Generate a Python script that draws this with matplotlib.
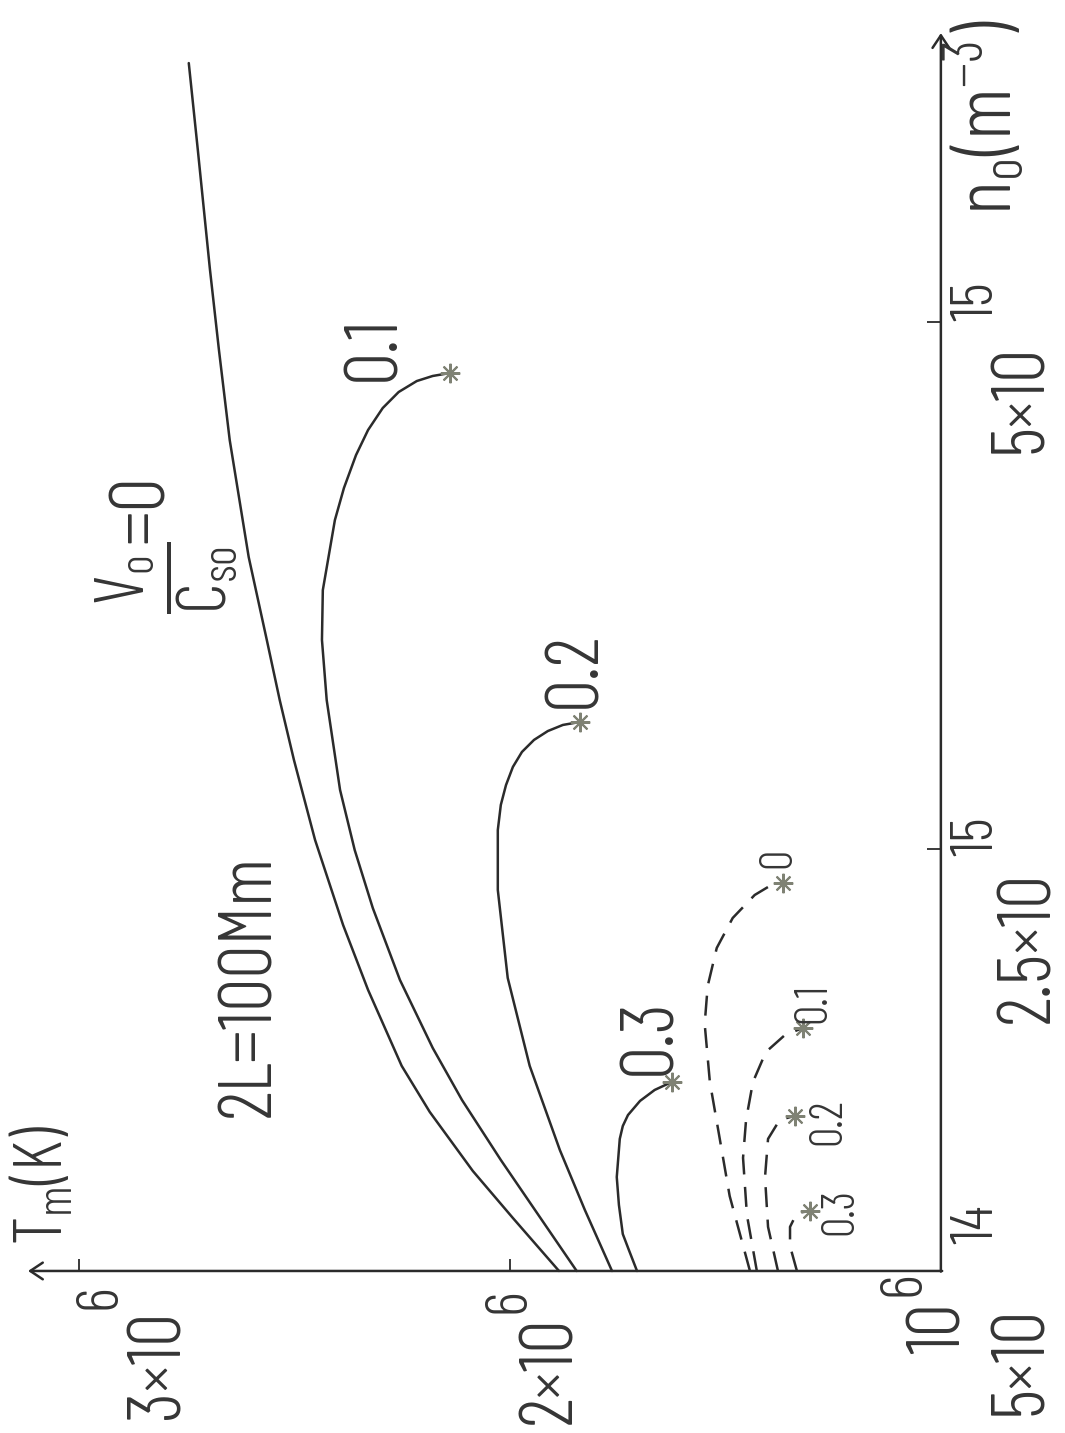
import matplotlib
matplotlib.use('Agg')
import matplotlib.pyplot as plt
from matplotlib import font_manager

# thin, narrow lettering; take the first family that has a light face installed
light = {f.name for f in font_manager.fontManager.ttflist
         if f.style == 'normal' and isinstance(f.weight, int) and 200 <= f.weight <= 300}
face = next(f for f in ['Barlow Condensed', 'Fira Sans Extra Condensed', 'IBM Plex Sans Condensed',
                        'Saira Extra Condensed', 'Abel', 'DejaVu Sans'] if f in light or f in ('Abel', 'DejaVu Sans'))

plt.rcParams['font.family'] = [face, 'DejaVu Sans']
plt.rcParams['font.weight'] = 300
plt.rcParams['mathtext.fontset'] = 'custom'
plt.rcParams['mathtext.rm'] = face + ':weight=300'
plt.rcParams['mathtext.it'] = face + ':weight=300'
plt.rcParams['mathtext.bf'] = face + ':weight=300'
plt.rcParams['mathtext.default'] = 'rm'

# T_m in units of 1e6 K, n_o in units of 1e15 m^-3
# solid curves, 2L = 100 Mm, labelled by V_o/C_so
v00_n = [0.500, 0.751, 0.974, 1.254, 1.472, 1.832, 2.140, 2.543, 2.922, 3.206, 3.491,
         3.884, 4.438, 4.865, 5.249, 5.813, 6.225]
v00_T = [1.886, 1.993, 2.086, 2.186, 2.251, 2.329, 2.387, 2.452, 2.501, 2.534, 2.564,
         2.606, 2.650, 2.675, 2.696, 2.724, 2.745]

v01_n = [0.500, 0.742, 1.026, 1.310, 1.557, 1.879, 2.220, 2.495, 2.780, 3.206, 3.491,
         3.727, 4.059, 4.211, 4.367, 4.486, 4.590, 4.666, 4.718, 4.742, 4.756]
v01_T = [1.845, 1.926, 2.021, 2.111, 2.179, 2.255, 2.318, 2.360, 2.394, 2.425, 2.436,
         2.434, 2.406, 2.385, 2.357, 2.329, 2.295, 2.258, 2.216, 2.179, 2.139]

v02_n = [0.500, 0.789, 1.073, 1.472, 1.889, 2.306, 2.590, 2.709, 2.803, 2.889, 2.960,
         3.017, 3.059, 3.088, 3.102]
v02_T = [1.763, 1.826, 1.884, 1.954, 2.005, 2.028, 2.028, 2.021, 2.009, 1.993, 1.972,
         1.944, 1.912, 1.877, 1.838]

v03_n = [0.500, 0.600, 0.675, 0.813, 0.945, 1.126, 1.187, 1.239, 1.306, 1.358, 1.396]
v03_T = [1.705, 1.724, 1.738, 1.747, 1.752, 1.745, 1.738, 1.726, 1.698, 1.664, 1.624]

# dashed curves
d00_n = [0.500, 0.855, 1.126, 1.396, 1.671, 1.851, 2.031, 2.173, 2.282, 2.320, 2.339]
d00_T = [1.443, 1.490, 1.513, 1.536, 1.548, 1.541, 1.520, 1.483, 1.432, 1.401, 1.367]

d01_n = [0.500, 0.765, 1.036, 1.216, 1.396, 1.538, 1.618, 1.652]
d01_T = [1.427, 1.450, 1.459, 1.452, 1.436, 1.406, 1.362, 1.320]

d02_n = [0.500, 0.709, 0.945, 1.126, 1.216, 1.235]
d02_T = [1.378, 1.401, 1.408, 1.401, 1.374, 1.339]

d03_n = [0.500, 0.618, 0.709, 0.775, 0.784]
d03_T = [1.334, 1.350, 1.350, 1.334, 1.304]

T_ticks = [2.0, 3.0]
n_ticks = [2.5, 5.0]

ink = '#2b2b2b'
star = '#7f8274'

fig = plt.figure(figsize=(10.65, 14.33), dpi=100)
ax = fig.add_axes([0, 0, 1, 1])
ax.set_xlim(3.183, 0.712)   # temperature grows to the left
ax.set_ylim(-0.268, 6.524)

for s in ax.spines.values():
    s.set_visible(False)
ax.spines['bottom'].set_position(('data', 0.5))
ax.spines['right'].set_position(('data', 1.0))
ax.yaxis.set_ticks_position('right')
ax.set_xticks(T_ticks)
ax.set_yticks(n_ticks)
ax.tick_params(axis='x', direction='in', length=9, width=1.3, color=ink, labelbottom=False)
ax.tick_params(axis='y', direction='in', length=10, width=1.3, color=ink, labelright=False)

# axes with open arrow heads
arrow = dict(arrowstyle='->,head_length=0.9,head_width=0.6', color=ink, lw=1.8, shrinkA=0, shrinkB=0)
ax.annotate('', xy=(3.118, 0.5), xytext=(0.997, 0.5), arrowprops=arrow)
ax.annotate('', xy=(1.0, 6.367), xytext=(1.0, 0.497), arrowprops=arrow)

solid = [(v00_T, v00_n, False), (v01_T, v01_n, True), (v02_T, v02_n, True), (v03_T, v03_n, True)]
for T, n, end in solid:
    ax.plot(T, n, color=ink, lw=1.8, solid_joinstyle='round', solid_capstyle='round')
    if end:
        ax.plot(T[-1], n[-1], marker=(8, 2, 0), ms=14, mew=1.5, color=star)

for T, n in [(d00_T, d00_n), (d01_T, d01_n), (d02_T, d02_n), (d03_T, d03_n)]:
    ax.plot(T, n, color=ink, lw=1.8, dashes=(8, 5))
    ax.plot(T[-1], n[-1], marker=(8, 2, 0), ms=14, mew=1.5, color=star)

txt = dict(color='#353535', rotation=90, ha='center', va='center')
big = 54
sup = 44
small = 33


def power_label(T, n, base, T_exp, n_exp, exp):
    # base number and its exponent are lettered separately
    ax.text(T, n, base, fontsize=big, **txt)
    ax.text(T_exp, n_exp, exp, fontsize=sup, **txt)


# axis labels
ax.text(3.160, 0.623, r'T$_m$(K)', fontsize=49, color='#353535', rotation=90, ha='left', va='bottom')
ax.text(0.995, 5.505, r'n$_o$(m$^{-3}$)', fontsize=58, color='#353535', rotation=90, ha='left', va='bottom')

# tick labels
power_label(2.814, 0.055, '3×10', 2.950, 0.380, '6')
power_label(1.903, 0.031, '2×10', 2.000, 0.360, '6')
power_label(1.000, 0.230, '10', 1.085, 0.440, '6')
power_label(0.812, 0.078, '5×10', 0.915, 0.720, '14')
power_label(0.794, 2.036, '2.5×10', 0.915, 2.560, '15')
power_label(0.812, 4.637, '5×10', 0.915, 5.095, '15')

# annotations
ax.text(2.603, 1.855, '2L=100Mm', fontsize=big, **txt)
ax.text(2.798, 3.784, r'$\dfrac{V_o}{C_{so}}$', fontsize=50, **txt)
ax.text(2.850, 4.111, '=0', fontsize=56, **txt)
ax.text(2.313, 4.874, '0.1', fontsize=big, **txt)
ax.text(1.845, 3.348, '0.2', fontsize=big, **txt)
ax.text(1.671, 1.609, '0.3', fontsize=big, **txt)

ax.text(1.378, 2.457, '0', fontsize=small, **txt)
ax.text(1.295, 1.770, '0.1', fontsize=small, **txt)
ax.text(1.262, 1.206, '0.2', fontsize=small, **txt)
ax.text(1.234, 0.784, '0.3', fontsize=small, **txt)

fig.savefig('out.png', dpi=100, facecolor='white')
